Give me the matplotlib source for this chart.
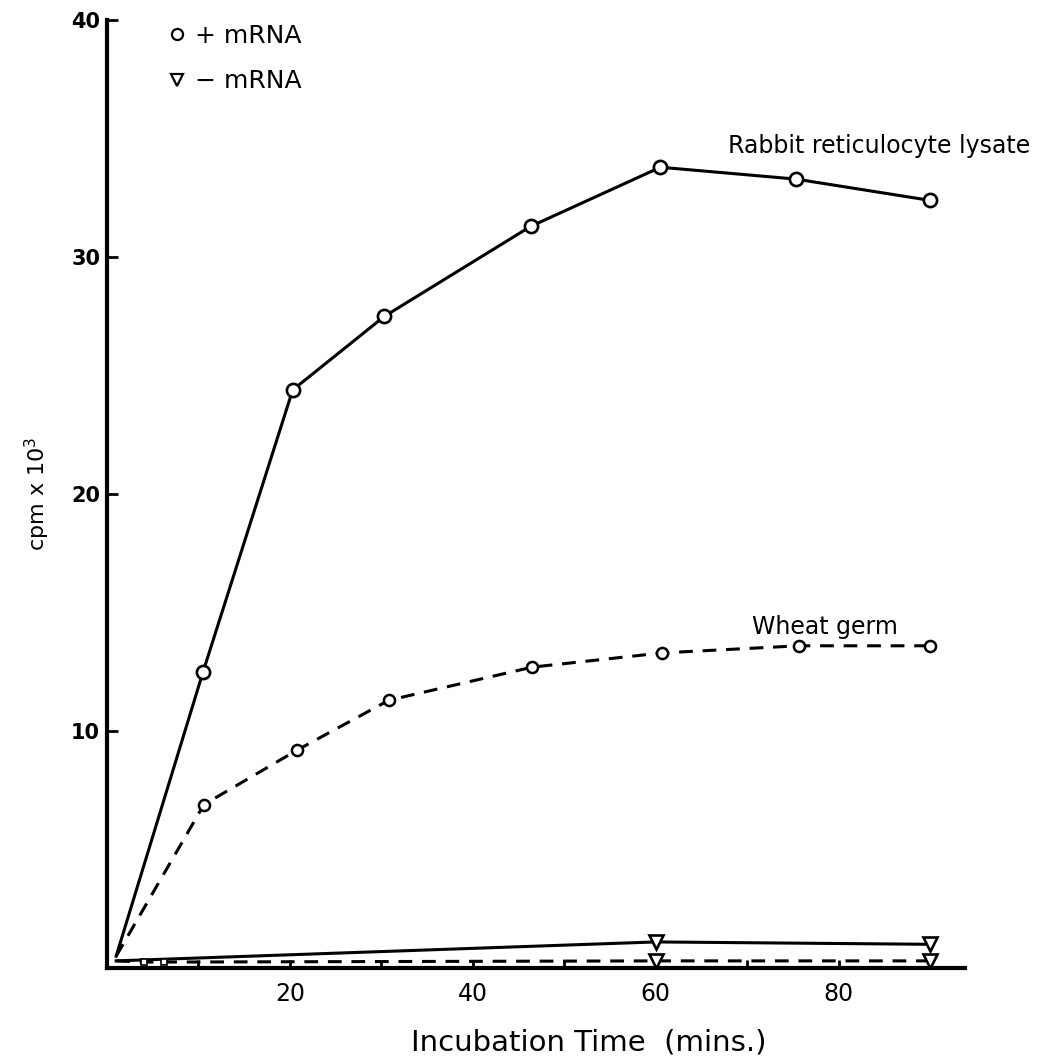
import matplotlib
matplotlib.use("Agg")
import matplotlib.pyplot as plt
from matplotlib.lines import Line2D

# incubation time (mins) and incorporation (cpm x 10^3)
rabbit_t = [1, 10.5, 20.3, 30.3, 46.3, 60.5, 75.3, 90]
rabbit_cpm = [0.5, 12.5, 24.4, 27.5, 31.3, 33.8, 33.3, 32.4]

wheat_t = [1, 10.6, 20.8, 30.8, 46.5, 60.7, 75.6, 90]
wheat_cpm = [0.5, 6.9, 9.2, 11.3, 12.7, 13.3, 13.6, 13.6]

rabbit_minus_t = [1, 60, 90]
rabbit_minus_cpm = [0.3, 1.1, 1.0]

wheat_minus_t = [1, 4, 6.2, 60, 90]
wheat_minus_cpm = [0.3, 0.25, 0.25, 0.3, 0.3]

x_ticks = [10, 20, 30, 40, 50, 60, 70, 80, 90]
x_labels = ["", "20", "", "40", "", "60", "", "80", ""]
y_ticks = [10, 20, 30, 40]

fig = plt.figure(figsize=(10.4, 10.6), dpi=100)
ax = fig.add_axes([0.1029, 0.0868, 0.825, 0.894])

dash = (0, (4.5, 3.2))
lw = 2.2

ax.plot(rabbit_t, rabbit_cpm, color="black", lw=lw, marker="o", markersize=9.5,
        markerfacecolor="white", markeredgewidth=1.9, markevery=list(range(1, len(rabbit_t))))
ax.plot(wheat_t, wheat_cpm, color="black", lw=lw, linestyle=dash, marker="o", markersize=8,
        markerfacecolor="white", markeredgewidth=1.8, markevery=list(range(1, len(wheat_t))))
ax.plot(rabbit_minus_t, rabbit_minus_cpm, color="black", lw=lw, marker="v", markersize=10,
        markerfacecolor="white", markeredgewidth=1.9, markevery=[1, 2])
ax.plot(wheat_minus_t, wheat_minus_cpm, color="black", lw=lw, linestyle=dash, marker="v",
        markersize=10, markerfacecolor="white", markeredgewidth=1.9, markevery=[3, 4])
ax.plot(wheat_minus_t[1:3], wheat_minus_cpm[1:3], linestyle="none", marker="s", markersize=4,
        markerfacecolor="white", markeredgecolor="black", markeredgewidth=1.2)

ax.set_xlim(0, 93.8)
ax.set_ylim(0, 40)
for side in ["top", "right"]:
    ax.spines[side].set_visible(False)
ax.spines["left"].set_linewidth(3)
ax.spines["bottom"].set_linewidth(3)

ax.set_xticks(x_ticks)
ax.set_xticklabels(x_labels)
ax.set_yticks(y_ticks)
ax.tick_params(axis="x", direction="in", length=6, width=2, pad=10, labelsize=17)
ax.tick_params(axis="y", direction="in", length=8, width=2, pad=5, labelsize=15)
for lab in ax.get_yticklabels():
    lab.set_fontweight("bold")

ax.set_xlabel("Incubation Time  (mins.)", fontsize=21, va="center")
ax.xaxis.set_label_coords(0.562, -0.079)
ax.set_ylabel("cpm x 10$^3$", fontsize=16, labelpad=14)

# key in the top-left corner
handles = [
    Line2D([], [], linestyle="none", marker="o", markersize=8, markerfacecolor="white",
           markeredgecolor="black", markeredgewidth=1.6),
    Line2D([], [], linestyle="none", marker="v", markersize=8, markerfacecolor="white",
           markeredgecolor="black", markeredgewidth=1.6),
]
ax.legend(handles, ["+ mRNA", "− mRNA"], loc="upper left", bbox_to_anchor=(0.149, 0.989),
          bbox_transform=fig.transFigure, frameon=False, fontsize=18, handlelength=0.8,
          handletextpad=0.3, labelspacing=0.85, borderpad=0)

ax.text(100.9, 34.4, "Rabbit reticulocyte lysate", fontsize=17, ha="right", va="baseline")
ax.text(78.5, 14.1, "Wheat germ", fontsize=17, ha="center", va="baseline")

fig.savefig("out.png", dpi=100)
